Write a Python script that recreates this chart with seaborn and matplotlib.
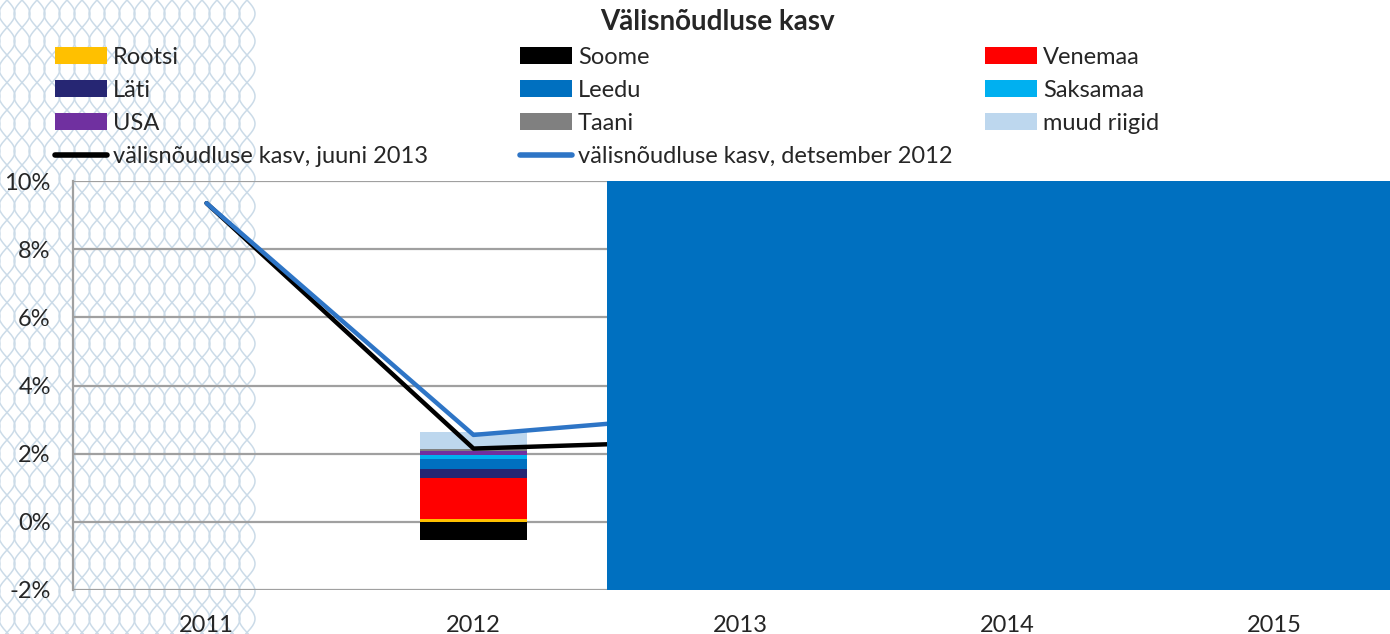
import matplotlib
matplotlib.use("Agg")
import matplotlib.pyplot as plt
import matplotlib.patches as mpatches
import matplotlib.lines as mlines
import seaborn as sns
import pandas as pd
import numpy as np

# ==== Data ====
years = ["2011", "2012", "2013", "2014", "2015"]
countries = ["Rootsi", "Soome", "Venemaa", "Läti", "Leedu", "Saksamaa", "USA", "Taani", "muud riigid"]
colors = ["#FFC000", "#000000", "#FF0000", "#262673", "#0070C0", "#00B0F0", "#7030A0", "#808080", "#BDD7EE"]
# contributions (percentage points), only 2012 is visible
contrib_2012 = [0.07, -0.53, 1.22, 0.25, 0.29, 0.14, 0.11, 0.07, 0.49]
growth_jun13 = [9.35, 2.15, 2.40, np.nan, np.nan]
growth_dec12 = [9.35, 2.55, 3.20, np.nan, np.nan]
line_labels = ["välisnõudluse kasv, juuni 2013", "välisnõudluse kasv, detsember 2012"]

contrib = pd.DataFrame({c: [np.nan, v, np.nan, np.nan, np.nan] for c, v in zip(countries, contrib_2012)}, index=years)
lines = pd.DataFrame({"x": np.arange(len(years)), line_labels[0]: growth_jun13, line_labels[1]: growth_dec12})

# ==== Style ====
sns.set_theme(style="white")
plt.rcParams["font.family"] = ["Lato", "DejaVu Sans"]
FS = 17

fig = plt.figure(figsize=(13.9, 6.34), dpi=100)

# decorative wavy background on the left
bg = fig.add_axes([0, 0, 1, 1], zorder=-1)
bg.set_xlim(0, 1390)
bg.set_ylim(634, 0)
bg.axis("off")
yy = np.linspace(0, 634, 800)
for x0 in np.arange(-8, 248, 15):
    for ph in (0, np.pi):
        xx = x0 + 8 * np.sin(2 * np.pi * yy / 55 + ph)
        bg.plot(xx, yy, color="#CBDBE8", lw=1.1, solid_capstyle="round")

ax = fig.add_axes([73 / 1390, 44 / 634, 1335 / 1390, 409 / 634])
ax.set_facecolor("none")

x = np.arange(len(years))
width = 0.40
pos_bottom = np.zeros(len(years))
neg_bottom = np.zeros(len(years))
for c, col in zip(countries, colors):
    vals = contrib[c].fillna(0).values
    bottoms = np.where(vals >= 0, pos_bottom, neg_bottom)
    ax.bar(x, vals, width, bottom=bottoms, color=col, zorder=2, linewidth=0)
    pos_bottom += np.where(vals >= 0, vals, 0)
    neg_bottom += np.where(vals < 0, vals, 0)

sns.lineplot(data=lines, x="x", y=line_labels[0], ax=ax, color="black", lw=3.2, zorder=3)
sns.lineplot(data=lines, x="x", y=line_labels[1], ax=ax, color="#2E75C6", lw=3.2, zorder=4)

# covered forecast area
ax.axvspan(1.5, 4.6, color="#0070C0", zorder=5, lw=0)

ax.set_xlim(-0.5, 4.5)
ax.set_ylim(-2, 10)
ax.set_yticks(np.arange(-2, 11, 2))
ax.set_yticklabels([f"{v}%" for v in range(-2, 11, 2)], fontsize=FS)
ax.set_xticks(x)
ax.set_xticklabels(years, fontsize=FS)
ax.set_xlabel("")
ax.set_ylabel("")
ax.grid(axis="y", color="#A0A0A0", lw=1.6, zorder=1)
ax.set_axisbelow(True)
for s in ["top", "right", "bottom"]:
    ax.spines[s].set_visible(False)
ax.spines["left"].set_color("#A0A0A0")
ax.spines["left"].set_linewidth(1.6)
ax.tick_params(axis="x", length=0, pad=18)
ax.tick_params(axis="y", length=0, pad=16)

fig.text(717 / 1390, 1 - 22 / 634, "Välisnõudluse kasv", ha="center", va="center",
         fontsize=20, fontweight="bold")

# ==== Legend in three columns ====
patch = {c: mpatches.Patch(color=col, lw=0) for c, col in zip(countries, colors)}
l_jun = mlines.Line2D([], [], color="black", lw=4)
l_dec = mlines.Line2D([], [], color="#2E75C6", lw=4)
cols = [
    ([patch["Rootsi"], patch["Läti"], patch["USA"], l_jun], ["Rootsi", "Läti", "USA", line_labels[0]], 55),
    ([patch["Soome"], patch["Leedu"], patch["Taani"], l_dec], ["Soome", "Leedu", "Taani", line_labels[1]], 520),
    ([patch["Venemaa"], patch["Saksamaa"], patch["muud riigid"]], ["Venemaa", "Saksamaa", "muud riigid"], 985),
]
for hs, ls, xp in cols:
    fig.legend(hs, ls, loc="upper left", bbox_to_anchor=(xp / 1390, 1 - 47 / 634),
               frameon=False, fontsize=FS, handlelength=2.2, handleheight=0.75,
               handletextpad=0.25, labelspacing=0.51, borderpad=0, borderaxespad=0)

fig.savefig("out.png", dpi=100)
